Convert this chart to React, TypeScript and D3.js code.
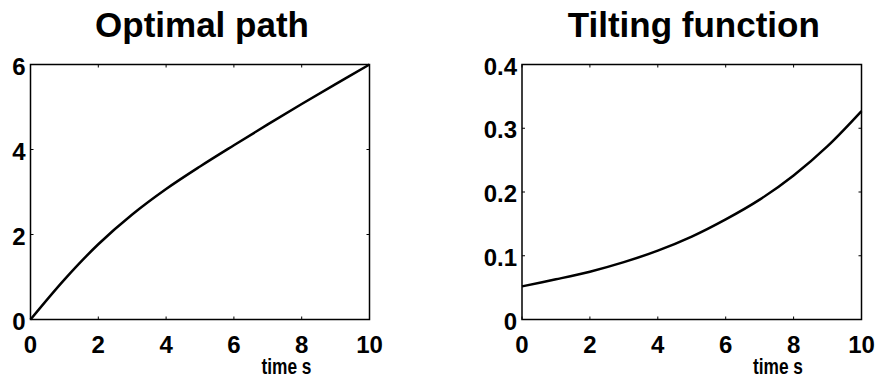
import React, { useEffect, useRef } from 'react'
import * as d3 from 'd3'

// time axis shared by both panels
const times = [0, 1, 2, 3, 4, 5, 6, 7, 8, 9, 10]
const pathValues = [0, 0.94, 1.77, 2.47, 3.07, 3.6, 4.1, 4.59, 5.07, 5.54, 6.0]
const tiltValues = [0.052, 0.063, 0.075, 0.09, 0.108, 0.13, 0.157, 0.188, 0.226, 0.272, 0.327]

const xTicks = [0, 2, 4, 6, 8, 10]
const pathTicks = [0, 2, 4, 6]
const tiltTicks = [0, 0.1, 0.2, 0.3, 0.4]
const tiltTickLabels = ['0', '0.1', '0.2', '0.3', '0.4']

const titles = ['Optimal path', 'Tilting function']
const xLabel = 'time s'

const W = 877
const H = 378
const FONT = '"Liberation Sans", Arial, sans-serif'

export default function App() {
  const ref = useRef<SVGSVGElement>(null)

  useEffect(() => {
    const svg = d3.select(ref.current)
    svg.selectAll('*').remove()

    const panels = [
      { left: 30.5, right: 369.5, values: pathValues, domain: [0, 6], ticks: pathTicks, labels: pathTicks.map(String) },
      { left: 522, right: 861.5, values: tiltValues, domain: [0, 0.4], ticks: tiltTicks, labels: tiltTickLabels },
    ]
    const top = 64.5
    const bottom = 319.5

    panels.forEach((p, i) => {
      const x = d3.scaleLinear().domain([0, 10]).range([p.left, p.right])
      const y = d3.scaleLinear().domain(p.domain).range([bottom, top])
      const g = svg.append('g')

      // ticks inside the box, on all four sides
      xTicks.forEach(t => {
        g.append('line').attr('x1', x(t)).attr('x2', x(t)).attr('y1', bottom).attr('y2', bottom - 3)
          .attr('stroke', '#000').attr('stroke-width', 1)
        g.append('line').attr('x1', x(t)).attr('x2', x(t)).attr('y1', top).attr('y2', top + 3)
          .attr('stroke', '#000').attr('stroke-width', 1)
        g.append('text').attr('x', x(t)).attr('y', bottom + 33)
          .attr('text-anchor', 'middle').attr('font-family', FONT).attr('font-weight', 'bold')
          .attr('font-size', 24).text(String(t))
      })
      p.ticks.forEach((t, k) => {
        g.append('line').attr('x1', p.left).attr('x2', p.left + 3).attr('y1', y(t)).attr('y2', y(t))
          .attr('stroke', '#000').attr('stroke-width', 1)
        g.append('line').attr('x1', p.right).attr('x2', p.right - 3).attr('y1', y(t)).attr('y2', y(t))
          .attr('stroke', '#000').attr('stroke-width', 1)
        g.append('text').attr('x', p.left - 5).attr('y', y(t) + 10)
          .attr('text-anchor', 'end').attr('font-family', FONT).attr('font-weight', 'bold')
          .attr('font-size', 24).text(p.labels[k])
      })

      g.append('rect').attr('x', p.left).attr('y', top)
        .attr('width', p.right - p.left).attr('height', bottom - top)
        .attr('fill', 'none').attr('stroke', '#000').attr('stroke-width', 1.5)

      const line = d3.line<number>()
        .x((d, k) => x(times[k]))
        .y(d => y(d))
        .curve(d3.curveCatmullRom)
      g.append('path').attr('d', line(p.values))
        .attr('fill', 'none').attr('stroke', '#000').attr('stroke-width', 2.5)

      g.append('text').attr('x', (p.left + p.right) / 2 + 2).attr('y', 37)
        .attr('text-anchor', 'middle').attr('font-family', FONT).attr('font-weight', 'bold')
        .attr('font-size', 35).text(titles[i])

      g.append('text').attr('x', p.left + 231).attr('y', 374)
        .attr('font-family', FONT).attr('font-weight', 'bold')
        .attr('font-size', 22).attr('textLength', 50).attr('lengthAdjust', 'spacingAndGlyphs')
        .text(xLabel)
    })
  }, [])

  return (
    <svg ref={ref} width={W} height={H}
      style={{ position: 'absolute', left: 0, top: 0, background: '#fff' }} />
  )
}
